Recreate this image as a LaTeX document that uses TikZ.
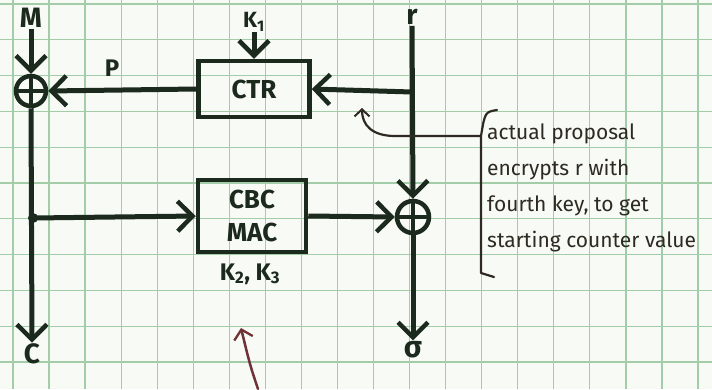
\documentclass[tikz,border=0pt]{standalone}
\usepackage{fontspec}
\setmainfont{Fira Sans}
\usetikzlibrary{arrows.meta}
\definecolor{paper}{HTML}{F7FAF5}
\definecolor{gridc}{HTML}{A2CDA8}
\definecolor{ink}{HTML}{1C2A1E}
\definecolor{pen}{HTML}{2E2A22}
\definecolor{maroon}{HTML}{6E3236}
\tikzset{
  arr/.style={line width=5pt, draw=ink, -{Straight Barb[length=15pt,width=30pt,line width=4.5pt]}},
  blk/.style={draw=ink, line width=4.5pt, rectangle, minimum width=111pt, inner sep=0pt, align=center, font=\bfseries\fontsize{26}{33}\selectfont, text=ink},
  xor/.style={draw=ink, line width=4.5pt, circle, minimum size=30pt, inner sep=0pt},
  lab/.style={text=ink, font=\bfseries\fontsize{28}{30}\selectfont, inner sep=1pt},
  note/.style={text=pen, font=\fontsize{21}{35.8}\selectfont, align=left, anchor=north west, inner sep=0pt},
  thin/.style={draw=pen, line width=2.2pt}
}
\begin{document}
\begin{tikzpicture}[x=1pt,y=-1pt]
\useasboundingbox (0,0) rectangle (712,389);
\fill[paper] (0,0) rectangle (712,389);
\foreach \i in {0,...,19} \draw[gridc, line width=1.3pt] ({13+36.05*\i},0) -- ({13+36.05*\i},389);
\foreach \j in {0,...,10} \draw[gridc, line width=1.3pt] (0,{4+35.8*\j}) -- (712,{4+35.8*\j});
% nodes
\node[lab] (M) at (31,18) {M};
\node[xor] (x1) at (31,91) {};
\draw[ink, line width=3.5pt] (x1.north) -- (x1.south) (x1.west) -- (x1.east);
\node[lab, font=\bfseries\fontsize{24}{26}\selectfont] (P) at (112,68) {P};
\node[blk, minimum height=56pt] (ctr) at (254,89) {CTR};
\node[lab, font=\bfseries\fontsize{22}{24}\selectfont] (k1) at (254,22) {K\textsubscript{1}};
\node[lab] (r) at (412,17) {r};
\coordinate (rb) at (412,92);
\node[blk, minimum height=72pt, minimum width=108pt] (cbc) at (252,216) {CBC\\MAC};
\node[lab, font=\bfseries\fontsize{24}{26}\selectfont] (k23) at (250,274) {K\textsubscript{2}, K\textsubscript{3}};
\node[xor, minimum size=32pt] (x2) at (413,217) {};
\draw[ink, line width=3.5pt] (x2.north) -- (x2.south) (x2.west) -- (x2.east);
\coordinate (jd) at (33,218);
\fill[ink] (jd) circle (5pt);
\node[lab] (C) at (32,354) {C};
\node[lab, font=\bfseries\fontsize{30}{30}\selectfont] (sig) at (413,350) {σ};
% connectors
\draw[arr] (M.south) -- (x1.north);
\draw[arr] (k1.south) -- (ctr.north);
\draw[arr] (ctr.west) -- (x1.east);
\draw[arr] (x1.south) -- (C.north);
\draw[arr] (jd) -- (cbc.west);
\draw[arr] (r.south) -- (x2.north);
\draw[arr] (rb) -- (ctr.east);
\draw[arr] (cbc.east) -- (x2.west);
\draw[arr] (x2.south) -- (sig.north);
% annotation
\coordinate (bt) at (497,110);
\coordinate (bm) at (481,136);
\coordinate (bb) at (481,273);
\coordinate (be) at (494,277);
\coordinate (ptip) at (362,108);
\draw[thin, line cap=round, line join=round] (bt) .. controls (485,112) .. (bm) -- (bb) -- (be);
\draw[thin, line cap=round, -{Straight Barb[length=7pt,width=15pt,line width=2pt]}] (bm) -- (395,136) .. controls (372,136) and (362,125) .. (ptip);
\node[note] (txt) at (487,124) {actual proposal\\encrypts r with\\fourth key, to get\\starting counter value};
% maroon pointer
\coordinate (mb) at (258,389);
\coordinate (mt) at (241,328);
\draw[draw=maroon, line width=2.5pt, line cap=round, -{Straight Barb[length=9pt,width=19pt,line width=2.3pt]}] (mb) .. controls (250,365) .. (mt);
\end{tikzpicture}
\end{document}
